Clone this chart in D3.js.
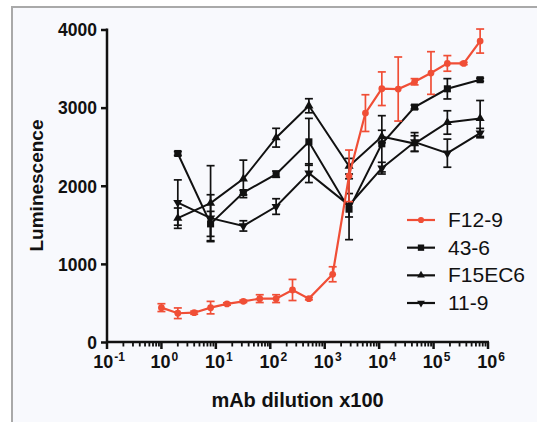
<!DOCTYPE html>
<html><head><meta charset="utf-8">
<script src="https://cdn.jsdelivr.net/npm/d3@7"></script>
<style>html,body{margin:0;padding:0;background:#fff;}svg{display:block;}</style>
</head><body>
<script>
// ---- data ----
const redX = [1,2,4,8,16,32,64,128,256,512,1400,2800,5600,11200,22400,44800,89600,179200,358400,716800];
const redY = [440,368,375,440,487,521,555,555,666,555,867,2127,2930,3242,3238,3331,3443,3566,3566,3852];
const redErr = [50,68,20,80,15,15,50,50,135,15,96,330,235,215,410,40,273,100,15,154];

const blackX = [2,8,32,128,512,2800,11200,44800,179200,716800];
const y436 = [2413,1512,1913,2148,2562,1700,2537,3007,3241,3357];
const e436 = [25,160,30,40,300,390,360,25,130,20];
const yF15 = [1585,1777,2088,2615,3024,2250,2630,2540,2810,2861];
const eF15 = [130,480,240,120,90,100,80,100,150,230];
const y119 = [1785,1585,1486,1734,2161,1750,2225,2560,2417,2674];
const e119 = [290,300,66,100,120,150,75,120,180,60];

const seriesNames = ["F12-9", "43-6", "F15EC6", "11-9"];
const xTickExp = [-1,0,1,2,3,4,5,6];
const yTicks = [0,1000,2000,3000,4000];

// ---- setup ----
const W = 537, H = 422;
const RED = "#f04e36", BLK = "#111";
const FONT = "'Liberation Sans', Arial, Helvetica, sans-serif";
const svg = d3.select("body").append("svg").attr("width", W).attr("height", H);
svg.append("rect").attr("x",0).attr("y",0).attr("width",W).attr("height",H).attr("fill","#fff");
svg.append("rect").attr("x",12).attr("y",7).attr("width",W).attr("height",H)
  .attr("fill","#f8f9fd").attr("stroke","#a9a9a9").attr("stroke-width",2);

const x = d3.scaleLog().domain([0.1, 1e6]).range([107, 488]);
const y = d3.scaleLinear().domain([0, 4000]).range([342, 29.5]);

// ---- axes ----
const yAxis = d3.axisLeft(y).tickValues(yTicks).tickSize(6).tickPadding(4).tickFormat(d3.format("d"));
const gy = svg.append("g").attr("transform","translate(107,0)").call(yAxis);
gy.select(".domain").attr("stroke",BLK).attr("stroke-width",2.5).attr("d","M0,28.5V342");
gy.selectAll(".tick line").attr("stroke",BLK).attr("stroke-width",2.5);
gy.selectAll(".tick text").attr("font-family",FONT).attr("font-weight","bold").attr("font-size","17.5px").attr("fill",BLK).attr("dy","0.36em");

// x axis: major and minor ticks
const minor = [];
for (let e = -1; e < 6; e++) for (let m = 2; m <= 9; m++) minor.push(m * Math.pow(10, e));
const gx = svg.append("g").attr("transform","translate(0,342)");
gx.append("path").attr("d", `M${x(0.1)-1},0H${x(1e6)+1}`).attr("stroke",BLK).attr("stroke-width",2.5);
gx.selectAll("line.minor").data(minor).enter().append("line").attr("class","minor")
  .attr("x1",d=>x(d)).attr("x2",d=>x(d)).attr("y1",0).attr("y2",4.5).attr("stroke",BLK).attr("stroke-width",1.8);
gx.selectAll("line.major").data(xTickExp).enter().append("line").attr("class","major")
  .attr("x1",d=>x(Math.pow(10,d))).attr("x2",d=>x(Math.pow(10,d))).attr("y1",0).attr("y2",7).attr("stroke",BLK).attr("stroke-width",2.5);
const xl = gx.selectAll("text.lab").data(xTickExp).enter().append("text").attr("class","lab")
  .attr("x",d=>x(Math.pow(10,d))+ (d<0?2:3)).attr("y",26).attr("text-anchor","middle")
  .attr("font-family",FONT).attr("font-weight","bold").attr("font-size","18px").attr("fill",BLK);
xl.append("tspan").text("10");
xl.append("tspan").attr("dy",-7).attr("font-size","12px").attr("dx",1).text(d=>String(d));

// axis titles
svg.append("text").attr("x",297.5).attr("y",407).attr("text-anchor","middle")
  .attr("font-family",FONT).attr("font-weight","bold").attr("font-size","20px").attr("fill",BLK)
  .text("mAb dilution x100");
svg.append("text").attr("transform","translate(43,185.5) rotate(-90)").attr("text-anchor","middle")
  .attr("font-family",FONT).attr("font-weight","bold").attr("font-size","19px").attr("fill",BLK)
  .text("Luminescence");

// ---- series ----
function toPts(xs, ys, es){ return xs.map((v,i)=>({x:v, y:ys[i], e:es[i]})); }
const series = [
  {name:seriesNames[1], pts:toPts(blackX,y436,e436), color:BLK, sym:d3.symbolSquare, size:50, lw:2},
  {name:seriesNames[2], pts:toPts(blackX,yF15,eF15), color:BLK, sym:d3.symbolTriangle, size:36, lw:2},
  {name:seriesNames[3], pts:toPts(blackX,y119,e119), color:BLK, sym:d3.symbolTriangle, size:36, lw:2, rot:180},
  {name:seriesNames[0], pts:toPts(redX,redY,redErr), color:RED, sym:d3.symbolCircle, size:36, lw:2.2},
];
const line = d3.line().x(d=>x(d.x)).y(d=>y(d.y));
series.forEach(s=>{
  const g = svg.append("g");
  const eb = g.selectAll("g.eb").data(s.pts).enter().append("g");
  eb.append("line").attr("x1",d=>x(d.x)).attr("x2",d=>x(d.x)).attr("y1",d=>y(d.y-d.e)).attr("y2",d=>y(d.y+d.e))
    .attr("stroke",s.color).attr("stroke-width",1.7);
  [1,-1].forEach(sg=>{
    eb.append("line").attr("x1",d=>x(d.x)-4).attr("x2",d=>x(d.x)+4).attr("y1",d=>y(d.y+sg*d.e)).attr("y2",d=>y(d.y+sg*d.e))
      .attr("stroke",s.color).attr("stroke-width",1.7);
  });
  g.append("path").attr("d",line(s.pts)).attr("fill","none").attr("stroke",s.color).attr("stroke-width",s.lw);
  g.selectAll("path.m").data(s.pts).enter().append("path").attr("class","m")
    .attr("d",d3.symbol().type(s.sym).size(s.size))
    .attr("transform",d=>`translate(${x(d.x)},${y(d.y)}) rotate(${s.rot||0})`)
    .attr("fill",s.color);
});

// ---- legend ----
const legend = [
  {name:seriesNames[0], color:RED, sym:d3.symbolCircle, size:30, rot:0},
  {name:seriesNames[1], color:BLK, sym:d3.symbolSquare, size:40, rot:0},
  {name:seriesNames[2], color:BLK, sym:d3.symbolTriangle, size:26, rot:0},
  {name:seriesNames[3], color:BLK, sym:d3.symbolTriangle, size:26, rot:180},
];
const legY = d3.scalePoint().domain(seriesNames).range([220, 303]);
const lg = svg.append("g");
legend.forEach(l=>{
  const yy = legY(l.name);
  lg.append("line").attr("x1",407).attr("x2",435).attr("y1",yy).attr("y2",yy).attr("stroke",l.color).attr("stroke-width",2.2);
  lg.append("path").attr("d",d3.symbol().type(l.sym).size(l.size)).attr("transform",`translate(421,${yy}) rotate(${l.rot})`).attr("fill",l.color);
  lg.append("text").attr("x",448).attr("y",yy+7).attr("font-family",FONT).attr("font-size","21px").attr("fill",BLK).text(l.name);
});
</script>
</body></html>
